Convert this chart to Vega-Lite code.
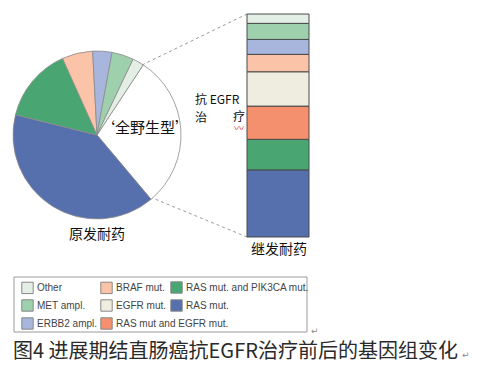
{
  "$schema": "https://vega.github.io/schema/vega-lite/v6.json",
  "width": 479,
  "height": 375,
  "padding": 0,
  "autosize": {"type": "fit", "contains": "padding"},
  "background": "white",
  "config": {
    "view": {"stroke": null},
    "axis": {"disable": true}
  },
  "data": {"values": [{}]},
  "datasets": {
    "pie": [
      {"cat": "Wild type", "v": 29.6, "o": 1},
      {"cat": "RAS mut.", "v": 40.0, "o": 2},
      {"cat": "RAS mut. and PIK3CA mut.", "v": 14.4, "o": 3},
      {"cat": "BRAF mut.", "v": 5.9, "o": 4},
      {"cat": "ERBB2 ampl.", "v": 3.7, "o": 5},
      {"cat": "MET ampl.", "v": 4.2, "o": 6},
      {"cat": "Other", "v": 2.2, "o": 7}
    ],
    "bar": [
      {"cat": "RAS mut.", "v": 30.1, "o": 1},
      {"cat": "RAS mut. and PIK3CA mut.", "v": 13.7, "o": 2},
      {"cat": "RAS mut and EGFR mut.", "v": 14.9, "o": 3},
      {"cat": "EGFR mut.", "v": 15.4, "o": 4},
      {"cat": "BRAF mut.", "v": 7.8, "o": 5},
      {"cat": "ERBB2 ampl.", "v": 6.7, "o": 6},
      {"cat": "MET ampl.", "v": 7.2, "o": 7},
      {"cat": "Other", "v": 4.2, "o": 8}
    ]
  },
  "resolve": {"scale": {"y": "independent", "color": "independent"}, "legend": {"color": "independent"}},
  "layer": [
    {
      "mark": {"type": "rule", "color": "#999", "strokeDash": [3, 3], "strokeWidth": 1},
      "encoding": {
        "x": {"datum": 142, "type": "quantitative", "scale": {"domain": [0, 479], "nice": false, "zero": false}},
        "y": {"datum": 65, "type": "quantitative", "scale": {"domain": [0, 375], "nice": false, "zero": false, "reverse": true}},
        "x2": {"datum": 247},
        "y2": {"datum": 14}
      }
    },
    {
      "mark": {"type": "rule", "color": "#999", "strokeDash": [3, 3], "strokeWidth": 1},
      "encoding": {
        "x": {"datum": 150, "type": "quantitative", "scale": {"domain": [0, 479], "nice": false, "zero": false}},
        "y": {"datum": 197, "type": "quantitative", "scale": {"domain": [0, 375], "nice": false, "zero": false, "reverse": true}},
        "x2": {"datum": 247},
        "y2": {"datum": 237}
      }
    },
    {
      "data": {"name": "pie"},
      "mark": {"type": "arc", "outerRadius": 84, "stroke": "#8a8a8a", "strokeWidth": 0.8},
      "encoding": {
        "theta": {"field": "v", "type": "quantitative", "stack": true, "scale": {"range": [0.583, 6.866]}},
        "order": {"field": "o", "type": "quantitative"},
        "color": {
          "field": "cat",
          "type": "nominal",
          "scale": {
            "domain": ["Other", "BRAF mut.", "RAS mut. and PIK3CA mut.", "MET ampl.", "EGFR mut.", "RAS mut.", "ERBB2 ampl.", "RAS mut and EGFR mut.", "Wild type"],
            "range": ["#e3eee4", "#fbc3a8", "#49a673", "#9fd0ae", "#efece0", "#566fad", "#a8b5dc", "#f5906e", "#ffffff"]
          },
          "legend": {
            "values": ["Other", "BRAF mut.", "MET ampl.", "EGFR mut.", "ERBB2 ampl.", "RAS mut and EGFR mut."],
            "title": null,
            "orient": "none",
            "direction": "horizontal",
            "columns": 2,
            "legendX": 21,
            "legendY": 281,
            "symbolType": "square",
            "symbolSize": 130,
            "symbolStrokeColor": "#888",
            "symbolStrokeWidth": 1,
            "symbolOpacity": 1,
            "labelFont": "Liberation Sans",
            "labelFontSize": 10,
            "labelColor": "#444",
            "labelOffset": 3,
            "padding": 0,
            "rowPadding": 1,
            "columnPadding": 0
          }
        },
        "x": {"datum": 97, "type": "quantitative", "scale": {"domain": [0, 479], "nice": false, "zero": false}},
        "y": {"datum": 135, "type": "quantitative", "scale": {"domain": [0, 375], "nice": false, "zero": false, "reverse": true}}
      }
    },
    {
      "data": {"name": "bar"},
      "transform": [
        {"stack": "v", "groupby": [], "sort": [{"field": "o", "order": "ascending"}], "as": ["y0", "y1"]}
      ],
      "mark": {"type": "bar", "stroke": "#4a4a4a", "strokeWidth": 1},
      "encoding": {
        "x": {"datum": 247, "type": "quantitative", "scale": {"domain": [0, 479], "nice": false, "zero": false}},
        "x2": {"datum": 309},
        "y": {"field": "y0", "type": "quantitative", "scale": {"domain": [-61.88, 106.28], "nice": false, "zero": false}},
        "y2": {"field": "y1"},
        "color": {
          "field": "cat",
          "type": "nominal",
          "scale": {
            "domain": ["Other", "BRAF mut.", "RAS mut. and PIK3CA mut.", "MET ampl.", "EGFR mut.", "RAS mut.", "ERBB2 ampl.", "RAS mut and EGFR mut.", "Wild type"],
            "range": ["#e3eee4", "#fbc3a8", "#49a673", "#9fd0ae", "#efece0", "#566fad", "#a8b5dc", "#f5906e", "#ffffff"]
          },
          "legend": {
            "values": ["RAS mut. and PIK3CA mut.", "RAS mut."],
            "title": null,
            "orient": "none",
            "direction": "vertical",
            "legendX": 170,
            "legendY": 281,
            "symbolType": "square",
            "symbolSize": 130,
            "symbolStrokeColor": "#888",
            "symbolStrokeWidth": 1,
            "symbolOpacity": 1,
            "labelFont": "Liberation Sans",
            "labelFontSize": 10,
            "labelColor": "#444",
            "labelOffset": 3,
            "padding": 0,
            "rowPadding": 1
          }
        }
      }
    },
    {
      "mark": {"type": "rect", "fill": null, "stroke": "#9a9a9a", "strokeWidth": 1},
      "encoding": {
        "x": {"datum": 14, "type": "quantitative", "scale": {"domain": [0, 479], "nice": false, "zero": false}},
        "x2": {"datum": 307},
        "y": {"datum": 277, "type": "quantitative", "scale": {"domain": [0, 375], "nice": false, "zero": false, "reverse": true}},
        "y2": {"datum": 332}
      }
    },
    {
      "mark": {"type": "text", "text": "‘全野生型’", "font": "Noto Sans CJK SC", "fontSize": 15, "align": "center", "baseline": "middle", "color": "#111"},
      "encoding": {
        "x": {"datum": 145, "type": "quantitative", "scale": {"domain": [0, 479], "nice": false, "zero": false}},
        "y": {"datum": 128, "type": "quantitative", "scale": {"domain": [0, 375], "nice": false, "zero": false, "reverse": true}}
      }
    },
    {
      "mark": {"type": "text", "text": "原发耐药", "font": "Noto Sans CJK SC", "fontSize": 14, "align": "center", "baseline": "middle", "color": "#111"},
      "encoding": {
        "x": {"datum": 97, "type": "quantitative", "scale": {"domain": [0, 479], "nice": false, "zero": false}},
        "y": {"datum": 235, "type": "quantitative", "scale": {"domain": [0, 375], "nice": false, "zero": false, "reverse": true}}
      }
    },
    {
      "mark": {"type": "text", "text": "继发耐药", "font": "Noto Sans CJK SC", "fontSize": 14, "align": "center", "baseline": "middle", "color": "#111"},
      "encoding": {
        "x": {"datum": 279, "type": "quantitative", "scale": {"domain": [0, 479], "nice": false, "zero": false}},
        "y": {"datum": 250, "type": "quantitative", "scale": {"domain": [0, 375], "nice": false, "zero": false, "reverse": true}}
      }
    },
    {
      "mark": {"type": "text", "text": "抗 EGFR", "font": "Noto Sans CJK SC", "fontSize": 12, "align": "left", "baseline": "middle", "color": "#111"},
      "encoding": {
        "x": {"datum": 195, "type": "quantitative", "scale": {"domain": [0, 479], "nice": false, "zero": false}},
        "y": {"datum": 100, "type": "quantitative", "scale": {"domain": [0, 375], "nice": false, "zero": false, "reverse": true}}
      }
    },
    {
      "mark": {"type": "text", "text": "治", "font": "Noto Sans CJK SC", "fontSize": 12, "align": "left", "baseline": "middle", "color": "#111"},
      "encoding": {
        "x": {"datum": 195, "type": "quantitative", "scale": {"domain": [0, 479], "nice": false, "zero": false}},
        "y": {"datum": 118, "type": "quantitative", "scale": {"domain": [0, 375], "nice": false, "zero": false, "reverse": true}}
      }
    },
    {
      "mark": {"type": "text", "text": "疗", "font": "Noto Sans CJK SC", "fontSize": 12, "align": "left", "baseline": "middle", "color": "#111"},
      "encoding": {
        "x": {"datum": 233, "type": "quantitative", "scale": {"domain": [0, 479], "nice": false, "zero": false}},
        "y": {"datum": 117, "type": "quantitative", "scale": {"domain": [0, 375], "nice": false, "zero": false, "reverse": true}}
      }
    },
    {
      "mark": {"type": "text", "text": "〰", "font": "Noto Sans CJK SC", "fontSize": 10, "align": "left", "baseline": "middle", "color": "#e02020"},
      "encoding": {
        "x": {"datum": 234, "type": "quantitative", "scale": {"domain": [0, 479], "nice": false, "zero": false}},
        "y": {"datum": 129, "type": "quantitative", "scale": {"domain": [0, 375], "nice": false, "zero": false, "reverse": true}}
      }
    },
    {
      "mark": {"type": "text", "text": "图4 进展期结直肠癌抗EGFR治疗前后的基因组变化", "font": "Noto Sans CJK SC", "fontSize": 20, "align": "left", "baseline": "middle", "color": "#2a2a2a"},
      "encoding": {
        "x": {"datum": 13, "type": "quantitative", "scale": {"domain": [0, 479], "nice": false, "zero": false}},
        "y": {"datum": 352, "type": "quantitative", "scale": {"domain": [0, 375], "nice": false, "zero": false, "reverse": true}}
      }
    },
    {
      "mark": {"type": "text", "text": "↵", "font": "DejaVu Sans", "fontSize": 9, "align": "left", "baseline": "middle", "color": "#888"},
      "encoding": {
        "x": {"datum": 462, "type": "quantitative", "scale": {"domain": [0, 479], "nice": false, "zero": false}},
        "y": {"datum": 355, "type": "quantitative", "scale": {"domain": [0, 375], "nice": false, "zero": false, "reverse": true}}
      }
    },
    {
      "mark": {"type": "text", "text": "↵", "font": "DejaVu Sans", "fontSize": 9, "align": "left", "baseline": "middle", "color": "#888"},
      "encoding": {
        "x": {"datum": 311, "type": "quantitative", "scale": {"domain": [0, 479], "nice": false, "zero": false}},
        "y": {"datum": 331, "type": "quantitative", "scale": {"domain": [0, 375], "nice": false, "zero": false, "reverse": true}}
      }
    }
  ]
}
